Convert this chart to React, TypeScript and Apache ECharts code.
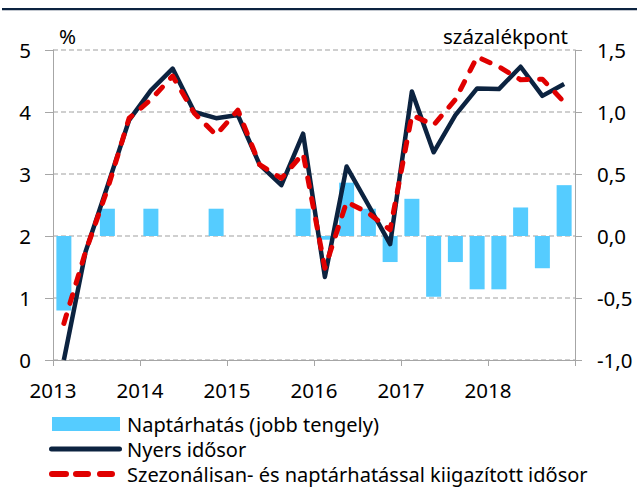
import React, { useEffect, useRef } from "react";
import * as echarts from "echarts";

const quarters = [
  "2013Q1", "2013Q2", "2013Q3", "2013Q4",
  "2014Q1", "2014Q2", "2014Q3", "2014Q4",
  "2015Q1", "2015Q2", "2015Q3", "2015Q4",
  "2016Q1", "2016Q2", "2016Q3", "2016Q4",
  "2017Q1", "2017Q2", "2017Q3", "2017Q4",
  "2018Q1", "2018Q2", "2018Q3", "2018Q4",
];
const yearTicks = ["2013", "2014", "2015", "2016", "2017", "2018"];

// Naptárhatás (right axis, százalékpont)
const calendarEffect = [
  -0.6, 0, 0.22, 0, 0.22, 0, 0, 0.22, 0, 0, 0, 0.22,
  -0.03, 0.43, 0.22, -0.21, 0.3, -0.49, -0.21, -0.43, -0.43, 0.23, -0.26, 0.41,
];
// Nyers idősor (left axis, %)
const rawSeries = [
  0.0, 1.75, 2.8, 3.87, 4.35, 4.7, 4.0, 3.9, 3.95, 3.15, 2.82, 3.65,
  1.34, 3.12, 2.5, 1.87, 4.33, 3.35, 3.95, 4.38, 4.37, 4.73, 4.26, 4.45,
];
// Szezonálisan- és naptárhatással kiigazított idősor (left axis, %)
const adjustedSeries = [
  0.59, 1.75, 2.75, 3.9, 4.2, 4.58, 3.98, 3.63, 4.03, 3.15, 2.93, 3.33,
  1.48, 2.55, 2.37, 2.1, 3.95, 3.79, 4.2, 4.89, 4.73, 4.52, 4.53, 4.16,
];

const names = {
  bar: "Naptárhatás (jobb tengely)",
  raw: "Nyers idősor",
  adj: "Szezonálisan- és naptárhatással kiigazított idősor",
};

const FONT = '"Noto Sans", "Open Sans", sans-serif';
const FS = 20.5;
const LFS = 20;

const solidIcon =
  "path://M2.5,0 H70.5 A2.5,2.5 0 0 1 70.5,5 H2.5 A2.5,2.5 0 0 1 2.5,0 Z";
const dash = (x0: number, x1: number) =>
  `M${x0 + 3},0 H${x1 - 3} A3,3 0 0 1 ${x1 - 3},6 H${x0 + 3} A3,3 0 0 1 ${x0 + 3},0 Z`;
const dashedIcon = "path://" + dash(0, 20) + " " + dash(24, 42) + " " + dash(48, 66);

export default function App() {
  const ref = useRef<HTMLDivElement>(null);
  useEffect(() => {
    if (!ref.current) return;
    const chart = echarts.init(ref.current, null, { renderer: "svg" });
    const toPts = (arr: number[]) => arr.map((v, i) => [i + 0.5, v]);
    const axisGray = "#a6a6a6";
    const legendText = (padLeft: number) => ({
      fontFamily: FONT,
      fontSize: LFS,
      color: "#000",
      lineHeight: 20,
      padding: [0, 0, 0, padLeft],
    });
    chart.setOption({
      animation: false,
      textStyle: { fontFamily: FONT },
      grid: { left: 53, right: 62, top: 50, bottom: 128, containLabel: false },
      graphic: [
        { type: "rect", shape: { x: 2, y: 8, width: 635, height: 2.2 }, style: { fill: "#0c2340" } },
      ],
      legend: [
        {
          left: 52,
          top: 414,
          padding: 0,
          itemWidth: 68,
          itemHeight: 14,
          textStyle: legendText(2),
          data: [{ name: names.bar, icon: "rect" }],
        },
        {
          left: 49,
          top: 439,
          padding: 0,
          itemWidth: 73,
          itemHeight: 5,
          textStyle: legendText(0),
          data: [{ name: names.raw, icon: solidIcon }],
        },
        {
          left: 49,
          top: 464,
          padding: 0,
          itemWidth: 66,
          itemHeight: 6,
          textStyle: legendText(7),
          data: [{ name: names.adj, icon: dashedIcon }],
        },
      ],
      xAxis: {
        type: "value",
        min: 0,
        max: quarters.length,
        interval: 4,
        axisLine: { show: true, onZero: false, lineStyle: { color: axisGray, width: 1 } },
        axisTick: { show: true, length: 6, lineStyle: { color: axisGray } },
        axisLabel: {
          fontSize: FS,
          color: "#000",
          margin: 19,
          fontFamily: FONT,
          formatter: (v: number) => {
            const idx = Math.round(v / 4);
            return idx < yearTicks.length ? yearTicks[idx] : "";
          },
        },
        splitLine: { show: false },
      },
      yAxis: [
        {
          type: "value",
          min: 0,
          max: 5,
          interval: 1,
          name: "%",
          nameLocation: "end",
          nameGap: 4,
          nameTextStyle: { fontSize: FS, color: "#000", align: "left", padding: [0, 0, 0, 6], fontFamily: FONT },
          axisLine: { show: true, lineStyle: { color: axisGray } },
          axisTick: { show: true, length: 8, lineStyle: { color: axisGray } },
          axisLabel: { fontSize: FS, color: "#000", margin: 22, fontFamily: FONT },
          splitLine: { show: true, lineStyle: { color: "#c0c0c0", type: [5, 3], width: 1.5 } },
        },
        {
          type: "value",
          min: -1,
          max: 1.5,
          interval: 0.5,
          position: "right",
          name: "százalékpont",
          nameLocation: "end",
          nameGap: 4,
          nameTextStyle: { fontSize: FS, color: "#000", align: "right", padding: [0, 7, 0, 0], fontFamily: FONT },
          axisLine: { show: true, lineStyle: { color: axisGray } },
          axisTick: { show: true, length: 7, lineStyle: { color: axisGray } },
          axisLabel: {
            fontSize: FS,
            color: "#000",
            margin: 22,
            fontFamily: FONT,
            formatter: (v: number) => v.toFixed(1).replace(".", ","),
          },
          splitLine: { show: false },
        },
      ],
      series: [
        {
          name: names.bar,
          type: "bar",
          yAxisIndex: 1,
          barWidth: 15,
          itemStyle: { color: "#55ccff" },
          data: toPts(calendarEffect),
          z: 1,
        },
        {
          name: names.raw,
          type: "line",
          yAxisIndex: 0,
          symbol: "none",
          lineStyle: { color: "#0c2340", width: 4.5, join: "round" },
          itemStyle: { color: "#0c2340" },
          data: toPts(rawSeries),
          z: 2,
        },
        {
          name: names.adj,
          type: "line",
          yAxisIndex: 0,
          symbol: "none",
          lineStyle: { color: "#e00000", width: 5, type: [9, 12], cap: "round", join: "round" },
          itemStyle: { color: "#e00000" },
          data: toPts(adjustedSeries),
          z: 3,
        },
      ],
    });
    return () => chart.dispose();
  }, []);
  return (
    <div
      ref={ref}
      style={{ position: "fixed", left: 0, top: 0, width: 637, height: 488, background: "#fff" }}
    />
  );
}
